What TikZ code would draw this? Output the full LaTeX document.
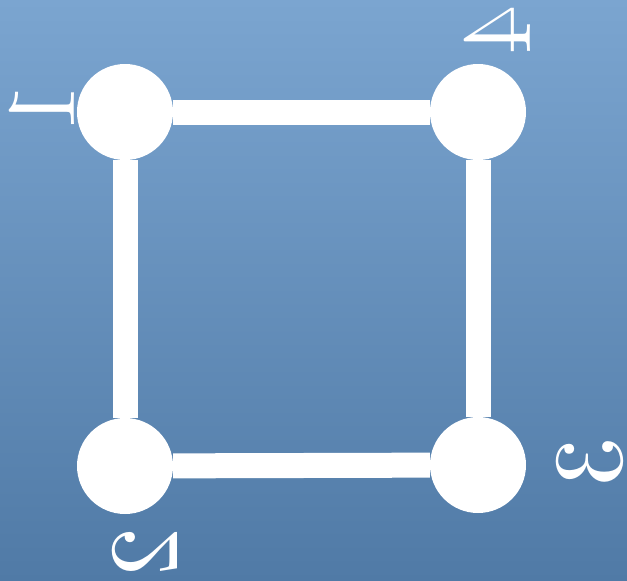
\documentclass[tikz,border=0pt]{standalone}
\definecolor{bgtop}{RGB}{123,165,208}
\definecolor{bgbot}{RGB}{80,122,166}
\tikzset{
  vert/.style={circle, fill=white, draw=none, minimum size=96pt, inner sep=0pt},
  edge/.style={white, line width=25pt},
  lab/.style={text=white, inner sep=0pt, font=\fontsize{10}{12}\selectfont, cm={0,-9.8,-9.8,0,(0,0)}}
}
\begin{document}
\begin{tikzpicture}[x=1pt, y=-1pt]
  \shade[top color=bgtop, bottom color=bgbot] (0,0) rectangle (627,581);
  \useasboundingbox (0,0) rectangle (627,581);
  \node[vert] (n1) at (125,112) {};
  \node[vert] (n4) at (478,112) {};
  \node[vert] (n3) at (478,465) {};
  \node[vert] (n2) at (125,466) {};
  \draw[edge] (n1) -- (n4);
  \draw[edge] (n4) -- (n3);
  \draw[edge] (n3) -- (n2);
  \draw[edge] (n2) -- (n1);
  \node[lab] (l1) at (42,108) {1};
  \node[lab] (l4) at (497,30) {4};
  \node[lab] (l3) at (590,462) {3};
  \node[lab] (l2) at (145,552) {2};
\end{tikzpicture}
\end{document}
